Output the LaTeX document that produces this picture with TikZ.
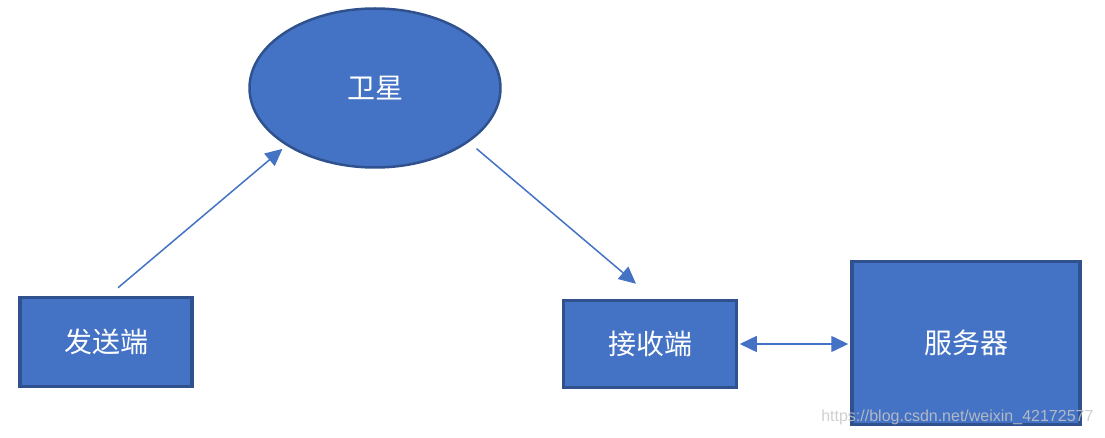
\documentclass[tikz,border=0pt]{standalone}
\usepackage{fontspec}
\newfontfamily\cjk{Noto Sans CJK SC}
\newfontfamily\wmfont{Liberation Sans}
\usetikzlibrary{arrows.meta,positioning,shapes.geometric}
\definecolor{boxfill}{HTML}{4472C4}
\definecolor{boxline}{HTML}{2F528F}

\begin{document}
\begin{tikzpicture}[
  x=1pt, y=-1pt,
  font=\cjk\fontsize{28}{31}\selectfont,
  party/.style={draw=boxline, fill=boxfill, text=white, line width=3.5pt,
    inner sep=0pt},
  orbit/.style={ellipse, draw=boxline, fill=boxfill, text=white, line width=2.5pt,
    minimum width=251pt, minimum height=159pt, inner sep=0pt},
  link/.style={draw=boxfill, line width=1.5pt,
    -{Triangle[length=17pt, width=16pt]}},
  dlink/.style={draw=boxfill, line width=1.5pt,
    {Triangle[length=17pt, width=16pt]}-{Triangle[length=17pt, width=16pt]}}
]
\useasboundingbox (0,0) rectangle (1105,438);
\node[orbit] (sat) at (375,88) {卫星};
\node[party, minimum width=172pt, minimum height=89pt] (send) at (106,342) {发送端};
\node[party, minimum width=173pt, minimum height=87pt] (recv) at (650,344) {接收端};
\node[party, minimum width=228pt, minimum height=163pt] (serv) at (966,343) {服务器};
\draw[link, shorten >=5pt] ([shift={(12pt,8pt)}]send.north) -- (sat.213);
\draw[link, shorten <=10pt] (sat.330) -- ([shift={(-14pt,15pt)}]recv.north);
\draw[dlink, shorten <=1.5pt, shorten >=2pt] (recv.east) -- (serv.west |- recv.east);
\node[font=\wmfont\fontsize{16}{18}\selectfont, text=gray!45, opacity=0.85,
  anchor=east] (mark) at (1097,417) {https://blog.csdn.net/weixin\_42172577};
\end{tikzpicture}
\end{document}
